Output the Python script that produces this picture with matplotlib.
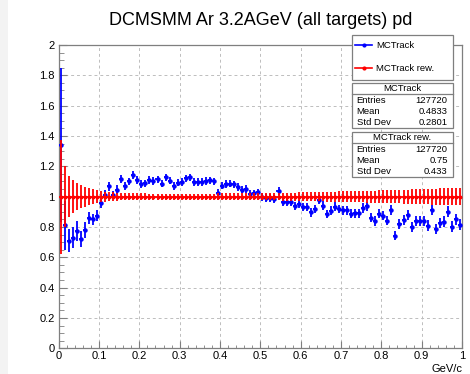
import numpy as np
import matplotlib.pyplot as plt
from matplotlib.patches import Rectangle
from matplotlib.lines import Line2D
from matplotlib.ticker import MultipleLocator

plt.rcParams['font.family'] = ['Liberation Sans', 'DejaVu Sans']

# 100 bins in p (GeV/c), ratio to reference
mctrack = [
    1.34, 0.81, 0.71, 0.73, 0.775, 0.72, 0.78, 0.86, 0.85, 0.875,
    0.955, 1.013, 1.068, 1.01, 1.046, 1.118, 1.072, 1.10, 1.145, 1.11,
    1.085, 1.088, 1.11, 1.104, 1.115, 1.085, 1.128, 1.106, 1.071, 1.092,
    1.096, 1.12, 1.128, 1.097, 1.097, 1.097, 1.104, 1.108, 1.101, 1.024,
    1.072, 1.083, 1.086, 1.081, 1.064, 1.047, 1.05, 1.02, 1.022, 1.028,
    0.996, 0.991, 0.989, 0.985, 1.035, 0.963, 0.963, 0.968, 0.941, 0.952,
    0.932, 0.932, 0.897, 0.919, 0.98, 0.941, 0.884, 0.908, 0.934, 0.919,
    0.91, 0.91, 0.888, 0.89, 0.89, 0.925, 0.936, 0.862, 0.84, 0.888,
    0.875, 0.842, 0.91, 0.743, 0.818, 0.844, 0.882, 0.798, 0.84, 0.84,
    0.84, 0.809, 0.913, 0.787, 0.825, 0.836, 0.902, 0.803, 0.85, 0.815,
]
mctrack_err = [
    0.51, 0.16, 0.075, 0.07, 0.065, 0.055, 0.05, 0.04, 0.035, 0.035,
    0.03, 0.03, 0.03, 0.028, 0.028, 0.027, 0.027, 0.026, 0.026, 0.025,
    0.025, 0.025, 0.024, 0.024, 0.024, 0.024, 0.024, 0.024, 0.024, 0.024,
    0.024, 0.024, 0.024, 0.024, 0.024, 0.024, 0.024, 0.024, 0.024, 0.024,
    0.024, 0.024, 0.024, 0.024, 0.024, 0.025, 0.025, 0.025, 0.025, 0.025,
    0.025, 0.025, 0.026, 0.026, 0.026, 0.026, 0.026, 0.027, 0.027, 0.027,
    0.027, 0.027, 0.028, 0.028, 0.028, 0.028, 0.028, 0.029, 0.029, 0.029,
    0.029, 0.03, 0.03, 0.03, 0.03, 0.03, 0.031, 0.031, 0.031, 0.031,
    0.032, 0.032, 0.032, 0.032, 0.033, 0.033, 0.033, 0.033, 0.034, 0.034,
    0.034, 0.034, 0.035, 0.035, 0.035, 0.035, 0.036, 0.036, 0.036, 0.036,
]
rew = [1.0] * 100
rew_err = [
    0.375, 0.2, 0.135, 0.11, 0.09, 0.075, 0.065, 0.055, 0.048, 0.042,
    0.037, 0.033, 0.03, 0.028, 0.026, 0.025, 0.024, 0.023, 0.022, 0.022,
    0.021, 0.021, 0.02, 0.02, 0.02, 0.02, 0.02, 0.02, 0.02, 0.02,
    0.02, 0.02, 0.02, 0.02, 0.02, 0.02, 0.02, 0.02, 0.02, 0.021,
    0.021, 0.021, 0.021, 0.022, 0.022, 0.022, 0.023, 0.023, 0.023, 0.024,
    0.024, 0.024, 0.025, 0.025, 0.025, 0.026, 0.026, 0.027, 0.027, 0.028,
    0.028, 0.029, 0.029, 0.03, 0.03, 0.031, 0.032, 0.032, 0.033, 0.034,
    0.034, 0.035, 0.036, 0.036, 0.037, 0.038, 0.039, 0.039, 0.04, 0.041,
    0.042, 0.043, 0.043, 0.044, 0.045, 0.046, 0.047, 0.048, 0.048, 0.049,
    0.05, 0.051, 0.052, 0.053, 0.054, 0.054, 0.055, 0.056, 0.057, 0.058,
]

stats = {
    "MCTrack": [("Entries", "127720"), ("Mean", "0.4833"), ("Std Dev", "0.2801")],
    "MCTrack rew.": [("Entries", "127720"), ("Mean", "0.75"), ("Std Dev", "0.433")],
}

edges = np.linspace(0, 1, 101)
centers = 0.5 * (edges[:-1] + edges[1:])
half = 0.5 * np.diff(edges)

BLUE = "#0000ff"
RED = "#ff0000"
FRAME = "#7f7f7f"

fig = plt.figure(figsize=(4.7, 3.74), dpi=100)
fig.patches.append(Rectangle((0, 0), 8 / 470, 1, transform=fig.transFigure,
                             facecolor="#f3f3f3", edgecolor="none", zorder=0))
ax = fig.add_axes([0.1249, 0.0687, 0.983 - 0.1249, 0.8797 - 0.0687])

ax.errorbar(centers, mctrack, xerr=half, yerr=mctrack_err, fmt="o", ms=2.2,
            color=BLUE, elinewidth=1.3, capsize=0, zorder=3)
ax.errorbar(centers, rew, xerr=half, yerr=rew_err, fmt="o", ms=1.8,
            color=RED, elinewidth=1.3, capsize=0, zorder=4)

ax.set_xlim(0, 1)
ax.set_ylim(0, 2)
ax.xaxis.set_major_locator(MultipleLocator(0.1))
ax.xaxis.set_minor_locator(MultipleLocator(0.02))
ax.yaxis.set_major_locator(MultipleLocator(0.2))
ax.yaxis.set_minor_locator(MultipleLocator(0.05))
ax.xaxis.set_major_formatter(plt.FuncFormatter(lambda v, p: f"{v:g}"))
ax.yaxis.set_major_formatter(plt.FuncFormatter(lambda v, p: f"{v:g}"))
ax.grid(True, which="major", color="#bdbdbd", linestyle=(0, (3, 3)), linewidth=0.7)
ax.tick_params(which="both", direction="in", top=False, right=False,
               color=FRAME, labelsize=8, labelcolor="black")
ax.tick_params(axis="x", which="major", length=5, pad=2)
ax.tick_params(axis="x", which="minor", length=2.5)
ax.tick_params(axis="y", which="major", length=6, pad=3)
ax.tick_params(axis="y", which="minor", length=3.3)
for s in ax.spines.values():
    s.set_color(FRAME)
    s.set_linewidth(0.9)

fig.text(0.555, 0.946, "DCMSMM Ar 3.2AGeV (all targets) pd", ha="center",
         va="center", fontsize=13)
fig.text(0.983, 0.013, "GeV/c", ha="right", va="center", fontsize=8)

# legend box
bx0, bx1 = 351.7 / 470, 452.7 / 470
def fy(py):
    return 1 - py / 374

def box(top, bottom):
    fig.patches.append(Rectangle((bx0, fy(bottom)), bx1 - bx0, fy(top) - fy(bottom),
                                 transform=fig.transFigure, facecolor="white",
                                 edgecolor=FRAME, linewidth=0.9, zorder=5))

box(35, 80)
for py, name, col in [(45, "MCTrack", BLUE), (68.3, "MCTrack rew.", RED)]:
    fig.lines.append(Line2D([355 / 470, 372 / 470], [fy(py), fy(py)], color=col,
                            lw=1.2, transform=fig.transFigure, zorder=6))
    fig.lines.append(Line2D([363.5 / 470], [fy(py)], color=col, marker="o", ms=2,
                            transform=fig.transFigure, zorder=6))
    fig.text(376 / 470, fy(py), name, ha="left", va="center", fontsize=6.8, zorder=7)

# stats boxes
for top, (name, rows) in zip([83.3, 132.3], stats.items()):
    bottom = top + 45
    box(top, bottom)
    fig.lines.append(Line2D([bx0, bx1], [fy(top + 11), fy(top + 11)], color=FRAME,
                            lw=0.9, transform=fig.transFigure, zorder=6))
    fig.text((bx0 + bx1) / 2, fy(top + 5.6), name, ha="center", va="center",
             fontsize=6.8, zorder=7)
    for k, (lab, val) in enumerate(rows):
        py = top + 17.4 + 11 * k
        fig.text(356.7 / 470, fy(py), lab, ha="left", va="center", fontsize=6.8, zorder=7)
        fig.text(447.7 / 470, fy(py), val, ha="right", va="center", fontsize=6.8, zorder=7)

fig.savefig("out.png", dpi=100)
